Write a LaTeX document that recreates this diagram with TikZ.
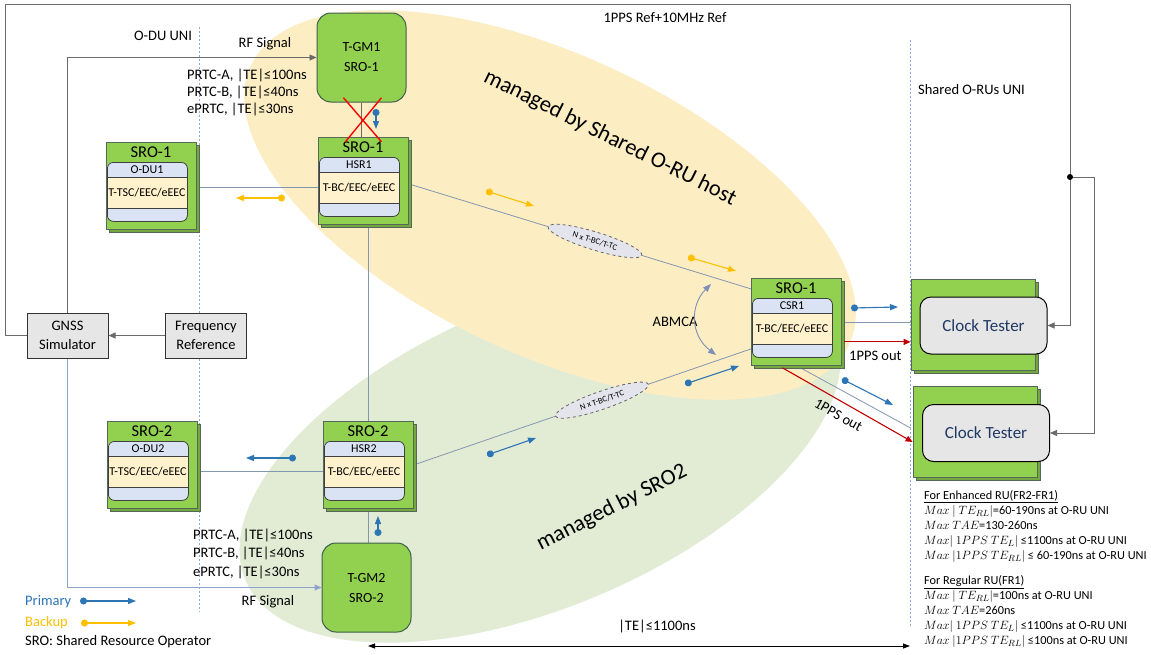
\documentclass[tikz,border=0pt]{standalone}
\usepackage{fontspec}
\setmainfont{Carlito}
\usetikzlibrary{arrows.meta,shapes.geometric,calc}

\definecolor{boxgreen}{HTML}{92D050}
\definecolor{boxside}{HTML}{72A83E}
\definecolor{boxedge}{HTML}{56685A}
\definecolor{gmedge}{HTML}{3F5F4A}
\definecolor{bandblue}{HTML}{DAE3F3}
\definecolor{bandcream}{HTML}{FFF2CC}
\definecolor{hostyellow}{HTML}{FCEDC3}
\definecolor{srogreen}{HTML}{E2ECD5}
\definecolor{prim}{HTML}{2E75B6}
\definecolor{back}{HTML}{FFC000}
\definecolor{pps}{HTML}{C00000}
\definecolor{linkgray}{HTML}{8497B0}
\definecolor{feed}{HTML}{8EA4CC}
\definecolor{wire}{HTML}{6A6A6A}
\definecolor{guide}{HTML}{8FAADC}
\definecolor{panel}{HTML}{E7E6E6}
\definecolor{navy}{HTML}{1F3864}
\definecolor{chainfill}{HTML}{E4E4EC}
\definecolor{abmcol}{HTML}{7F8FB8}

\newcommand\fs[2]{\fontsize{#1}{#2}\selectfont}

\pgfdeclarelayer{bg}
\pgfsetlayers{bg,main}

\tikzset{
  lbl/.style={font=\fs{14.5}{17}, inner sep=0pt},
  domaintext/.style={font=\fs{22.5}{24}, inner sep=0pt},
  unitbox/.style={draw=boxedge, fill=boxgreen, minimum width=90pt, minimum height=87pt, inner sep=0pt, line width=0.8pt},
  unittitle/.style={font=\fs{16.5}{18}, inner sep=0pt},
  bandtext/.style={font=\fs{12}{14}, inner sep=0pt},
  corebox/.style={draw=black!75, line width=0.8pt, rounded corners=6pt, inner sep=0pt},
  gmbox/.style={draw=gmedge, fill=boxgreen, rounded corners=14pt, minimum width=89pt, minimum height=89pt, line width=1pt, align=center, font=\fs{14}{20}},
  srcbox/.style={draw=black!80, fill=panel, line width=1pt, minimum width=81pt, minimum height=45pt, align=center, font=\fs{14.5}{19}, inner sep=0pt},
  panelbox/.style={draw=boxedge, fill=boxgreen, minimum width=124pt, minimum height=91pt, inner sep=0pt, line width=0.8pt},
  testbox/.style={draw=black, fill=panel, rounded corners=11pt, line width=1pt, minimum width=127pt, minimum height=57pt, font=\fs{17}{20}, text=navy},
  chainbox/.style={ellipse, draw=black!60, dashed, fill=chainfill, text=black, minimum width=98pt, minimum height=18pt, inner sep=0pt, font=\fs{8.5}{9}},
  link/.style={linkgray, line width=0.8pt},
  feedline/.style={feed, line width=1pt},
  wireline/.style={wire, line width=0.9pt},
  endtip/.style={-{Triangle[length=7pt,width=6pt]}},
  primary/.style={prim, line width=1.1pt, {Circle[length=7pt]}-{Triangle[length=8pt,width=6pt]}},
  backup/.style={back, line width=1.1pt, {Circle[length=7pt]}-{Triangle[length=8pt,width=6pt]}},
  ppsline/.style={pps, line width=1.1pt},
  uniplane/.style={guide, line width=0.7pt, dash pattern=on 2pt off 2pt},
}

% green equipment unit with a three-band clock block inside
\newcommand\sroUnit[6]{%
  \fill[boxside, draw=boxedge, line width=0.6pt] (#2+3,#3+3) rectangle (#2+93,#3+90);
  \node[unitbox, anchor=north west] (#1) at (#2,#3) {};
  \node[unittitle] at (#2+45,#3+10) {#4};
  \fill[bandblue, rounded corners=6pt] (#2+1,#3+20) rectangle (#2+81,#3+79);
  \fill[bandcream] (#2+1,#3+35) rectangle (#2+81,#3+66);
  \draw[black!75, line width=0.8pt] (#2+1,#3+35) -- (#2+81,#3+35) (#2+1,#3+66) -- (#2+81,#3+66);
  \node[corebox, minimum width=80pt, minimum height=59pt, anchor=north west] (#1-core) at (#2+1,#3+20) {};
  \node[bandtext] at (#2+41,#3+27.5) {#5};
  \node[bandtext] at (#2+41,#3+50.5) {#6};
}

\begin{document}
\begin{tikzpicture}[x=1pt,y=-1pt]
\useasboundingbox (0,0) rectangle (1151,654);

% canvas and management domains
\begin{pgfonlayer}{bg}
  \fill[white] (0,0) rectangle (1151,654);
  \fill[srogreen, rotate around={23:(540,455)}] (540,455) ellipse [x radius=320pt, y radius=152pt];
  \fill[hostyellow, rotate around={-25:(550,205)}] (550,205) ellipse [x radius=330pt, y radius=150pt];
\end{pgfonlayer}
\node[domaintext, rotate=-26.5] (hostlbl) at (610,138) {managed by Shared O-RU host};
\node[domaintext, rotate=27] (srolbl) at (612,508) {managed by SRO2};

% UNI reference planes
\draw[uniplane] (199,27) -- (199,612);
\draw[uniplane] (910,40) -- (910,628);
\node[lbl] (oduuni) at (163,36) {O-DU UNI};
\node[lbl, anchor=west] (oruuni) at (918,90) {Shared O-RUs UNI};

% reference sources and grandmasters
\node[srcbox] (gnss) at (67.5,335.5) {GNSS\\Simulator};
\node[srcbox] (freq) at (206,335.5) {Frequency\\Reference};
\node[gmbox] (tgm1) at (361.5,57.5) {T-GM1\\SRO-1};
\node[gmbox] (tgm2) at (366.5,587.5) {T-GM2\\SRO-2};

% network elements
\sroUnit{odu1}{106}{142}{SRO-1}{O-DU1}{T-TSC/EEC/eEEC}
\sroUnit{hsr1}{318}{137}{SRO-1}{HSR1}{T-BC/EEC/eEEC}
\sroUnit{csr1}{751}{278}{SRO-1}{CSR1}{T-BC/EEC/eEEC}
\sroUnit{odu2}{107}{421}{SRO-2}{O-DU2}{T-TSC/EEC/eEEC}
\sroUnit{hsr2}{323}{421}{SRO-2}{HSR2}{T-BC/EEC/eEEC}

% clock testers
\fill[boxside, draw=boxedge, line width=0.6pt] (914,282) rectangle (1038,373);
\node[panelbox] (ctbox1) at (973,324.5) {};
\node[testbox] (ct1) at (983.5,325.5) {Clock Tester};
\fill[boxside, draw=boxedge, line width=0.6pt] (916,389) rectangle (1040,480);
\node[panelbox] (ctbox2) at (975,432) {};
\node[testbox] (ct2) at (986,433) {Clock Tester};

% PTP links
\begin{pgfonlayer}{bg}
  \draw[link] (hsr1-core.west) -- (hsr1-core.west -| odu1.east);
  \draw[link] (hsr2-core.west) -- (hsr2-core.west -| odu2.east);
  \draw[link] ($(hsr1.east)+(0,3)$) -- node[chainbox, sloped, pos=0.544] (chain1) {N x T-BC/T-TC} ($(csr1.west)+(0,-33)$);
  \draw[link] (hsr2.east) -- node[chainbox, sloped, pos=0.558] (chain2) {N x T-BC/T-TC} ($(csr1.west)+(0,27)$);
  \draw[link] (hsr2.north) -- (hsr2.north |- hsr1.south);
  \draw[wireline] (tgm1.south) -- (tgm1.south |- hsr1.north);
  \draw[link] (hsr2.south) -- (hsr2.south |- tgm2.north);
  \draw[link] (csr1.east) -- (csr1.east -| ctbox1.west);
  \draw[link] ($(csr1.south)+(4,2)$) -- ($(ctbox2.west)+(-2,-4)$);
\end{pgfonlayer}

% 1PPS outputs
\coordinate (ppsA) at ($(csr1.east)+(2,20)$);
\draw[ppsline, endtip] (ppsA) -- (ppsA -| ctbox1.west);
\node[lbl, anchor=west] (ppsLbl1) at (849,356) {1PPS out};
\draw[ppsline, endtip] ($(csr1.south)+(-14,2)$) -- node[lbl, text=black, sloped, below=8pt, pos=0.48] (ppsLbl2) {1PPS out} ($(ctbox2.west)+(0,10)$);

% reference wiring
\coordinate (frameTL) at (5,4);
\coordinate (frameTR) at (1070,4);
\coordinate (tap) at (1070,177);
\draw[wireline, endtip] (gnss.west) -| (frameTL) -- (frameTR) |- (ct1.east);
\draw[wireline, endtip] (tap) -- ++(24,0) |- (ct2.east);
\fill[black] (tap) circle (3pt);
\draw[wireline, endtip] (gnss.north) |- (tgm1.west);
\draw[feedline, endtip] (gnss.south) |- (tgm2.west);
\draw[wireline, endtip] (freq.west) -- (freq.west -| gnss.east);
\node[lbl] (ppsref) at (665,18) {1PPS Ref+10MHz Ref};

% RF signal labels
\node[lbl] (rf1) at (265,44) {RF Signal};
\node[lbl, anchor=west, align=left, font=\fs{14.5}{17}] (prtc1) at (187,92) {PRTC-A, |TE|≤100ns\\PRTC-B, |TE|≤40ns\\ePRTC, |TE|≤30ns};
\node[lbl] (rf2) at (268,602) {RF Signal};
\node[lbl, anchor=west, align=left, font=\fs{14.5}{18.5}] (prtc2) at (193,553.5) {PRTC-A, |TE|≤100ns\\PRTC-B, |TE|≤40ns\\ePRTC, |TE|≤30ns};

% cut link between T-GM1 and HSR1
\coordinate (cut) at ($(tgm1.south)!0.5!(hsr1.north)$);
\draw[red, line width=1.4pt] ($(cut)+(-19,-22)$) -- ($(cut)+(19,22)$) ($(cut)+(19,-22)$) -- ($(cut)+(-17,22)$);

% timing flow indicators
\draw[primary] (376,109) -- (376,129);
\draw[primary] (378,536) -- (378,516);
\draw[primary] (296,458) -- (246,458);
\draw[primary] (487,455) -- (536,438);
\draw[primary] (685,384) -- (739,366);
\draw[primary] (851,308) -- (898,307);
\draw[primary] (842,379) -- (893,405);
\draw[backup] (285,198) -- (236,198);
\draw[backup] (486,191) -- (534,206);
\draw[backup] (688,257) -- (736,271);

% ABMCA selection
\node[lbl] (abmca) at (675,322) {ABMCA};
\draw[abmcol, line width=0.9pt, {Triangle[length=8pt,width=6pt]}-{Triangle[length=8pt,width=6pt]}] (711,284) .. controls (690,305) and (690,335) .. (716,355);

% legend
\node[lbl, text=prim, anchor=west] (legP) at (25,602) {Primary};
\draw[primary] (80,601) -- (136,601);
\node[lbl, text=back, anchor=west] (legB) at (25,623) {Backup};
\draw[backup] (81,623) -- (136,623);
\node[lbl, anchor=west] (legS) at (25,642) {SRO: Shared Resource Operator};

% end-to-end budget
\coordinate (teL) at (368,646);
\coordinate (teR) at (910,646);
\draw[black, line width=0.8pt, {Triangle[length=7pt,width=5pt]}-{Triangle[length=7pt,width=5pt]}] (teL) -- (teR);
\node[lbl] (te) at (657,626) {|TE|≤1100ns};

% requirements
\node[anchor=north west, align=left, font=\fs{12.3}{15}, inner sep=0pt] (req) at (924,490) {%
\underline{For Enhanced RU(FR2-FR1)}\\
$Max\ |\ TE_{RL}|$=60-190ns at O-RU UNI\\
$Max\ TAE$=130-260ns\\
$Max|\ 1PPS\ TE_{L}|$ ≤1100ns at O-RU UNI\\
$Max\ |1PPS\ TE_{RL}|$ ≤ 60-190ns at O-RU UNI\\[10pt]
\underline{For Regular RU(FR1)}\\
$Max\ |\ TE_{RL}|$=100ns at O-RU UNI\\
$Max\ TAE$=260ns\\
$Max|\ 1PPS\ TE_{L}|$ ≤1100ns at O-RU UNI\\
$Max\ |1PPS\ TE_{RL}|$ ≤100ns at O-RU UNI};
\end{tikzpicture}
\end{document}
